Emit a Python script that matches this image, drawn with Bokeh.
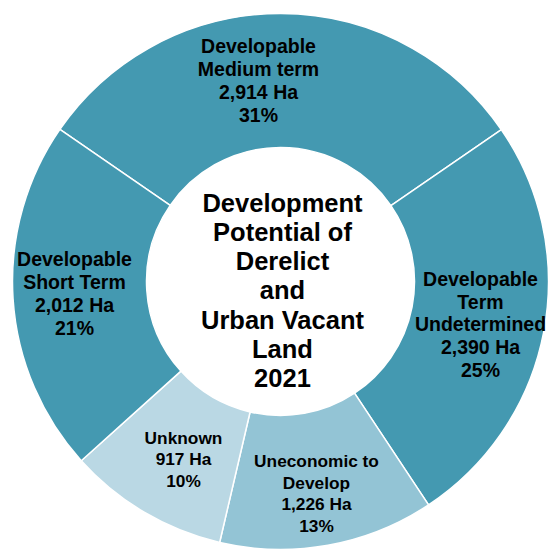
import math
from bokeh.plotting import figure
from bokeh.models import Range1d, ColumnDataSource
from bokeh.core.properties import value
from bokeh.embed import file_html
from bokeh.resources import INLINE

# ---- data ----
categories = ["Developable\nMedium term", "Developable\nTerm\nUndetermined",
              "Uneconomic to\nDevelop", "Unknown", "Developable\nShort Term"]
hectares = [2914, 2390, 1226, 917, 2012]
percents = [31, 25, 13, 10, 21]
title_text = "Development\nPotential of\nDerelict\nand\nUrban Vacant\nLand\n2021"

# ---- style / layout ----
colors = ["#4499B1", "#4499B1", "#93C4D5", "#BAD8E4", "#4499B1"]
W, H = 548, 551
cx, cy = 280, H - 281      # donut centre (px-like data units)
r_out, r_in = 268, 134
start_deg = 145.4          # angle of first slice edge (math convention)
# label centres in page px (x, y from top)
label_pos = [(258, 80), (480, 324), (316, 493), (183, 459), (74, 293)]
label_size = ["19.5px", "19.5px", "17.3px", "17.3px", "19.5px"]
label_lh = [1.035, 1.035, 1.095, 1.095, 1.035]

total = sum(hectares)
starts, ends = [], []
a = math.radians(start_deg)
for v in hectares:
    sweep = 2 * math.pi * v / total
    starts.append(a - sweep)
    ends.append(a)
    a -= sweep

p = figure(width=W, height=H, x_range=Range1d(0, W), y_range=Range1d(0, H),
           output_backend="svg", toolbar_location=None, min_border=0)
p.axis.visible = False
p.grid.visible = False
p.outline_line_color = None
p.background_fill_color = "white"

src = ColumnDataSource(dict(start=starts, end=ends, color=colors))
p.annular_wedge(x=cx, y=cy, inner_radius=r_in, outer_radius=r_out,
                start_angle="start", end_angle="end", fill_color="color",
                line_color="white", line_width=1.5, source=src)

for i, name in enumerate(categories):
    txt = f"{name}\n{hectares[i]:,} Ha\n{percents[i]}%"
    px, py = label_pos[i]
    p.text(x=[px], y=[H - py], text=[txt], text_align="center",
           text_baseline="middle", text_font=value("Liberation Sans"),
           text_font_style="bold", text_font_size=label_size[i],
           text_line_height=label_lh[i], text_color="black")

p.text(x=[282], y=[H - 290], text=[title_text], text_align="center",
       text_baseline="middle", text_font=value("Liberation Sans"),
       text_font_style="bold", text_font_size="25.5px",
       text_line_height=1.047, text_color="black")

open("out.html", "w").write(file_html(p, INLINE))
